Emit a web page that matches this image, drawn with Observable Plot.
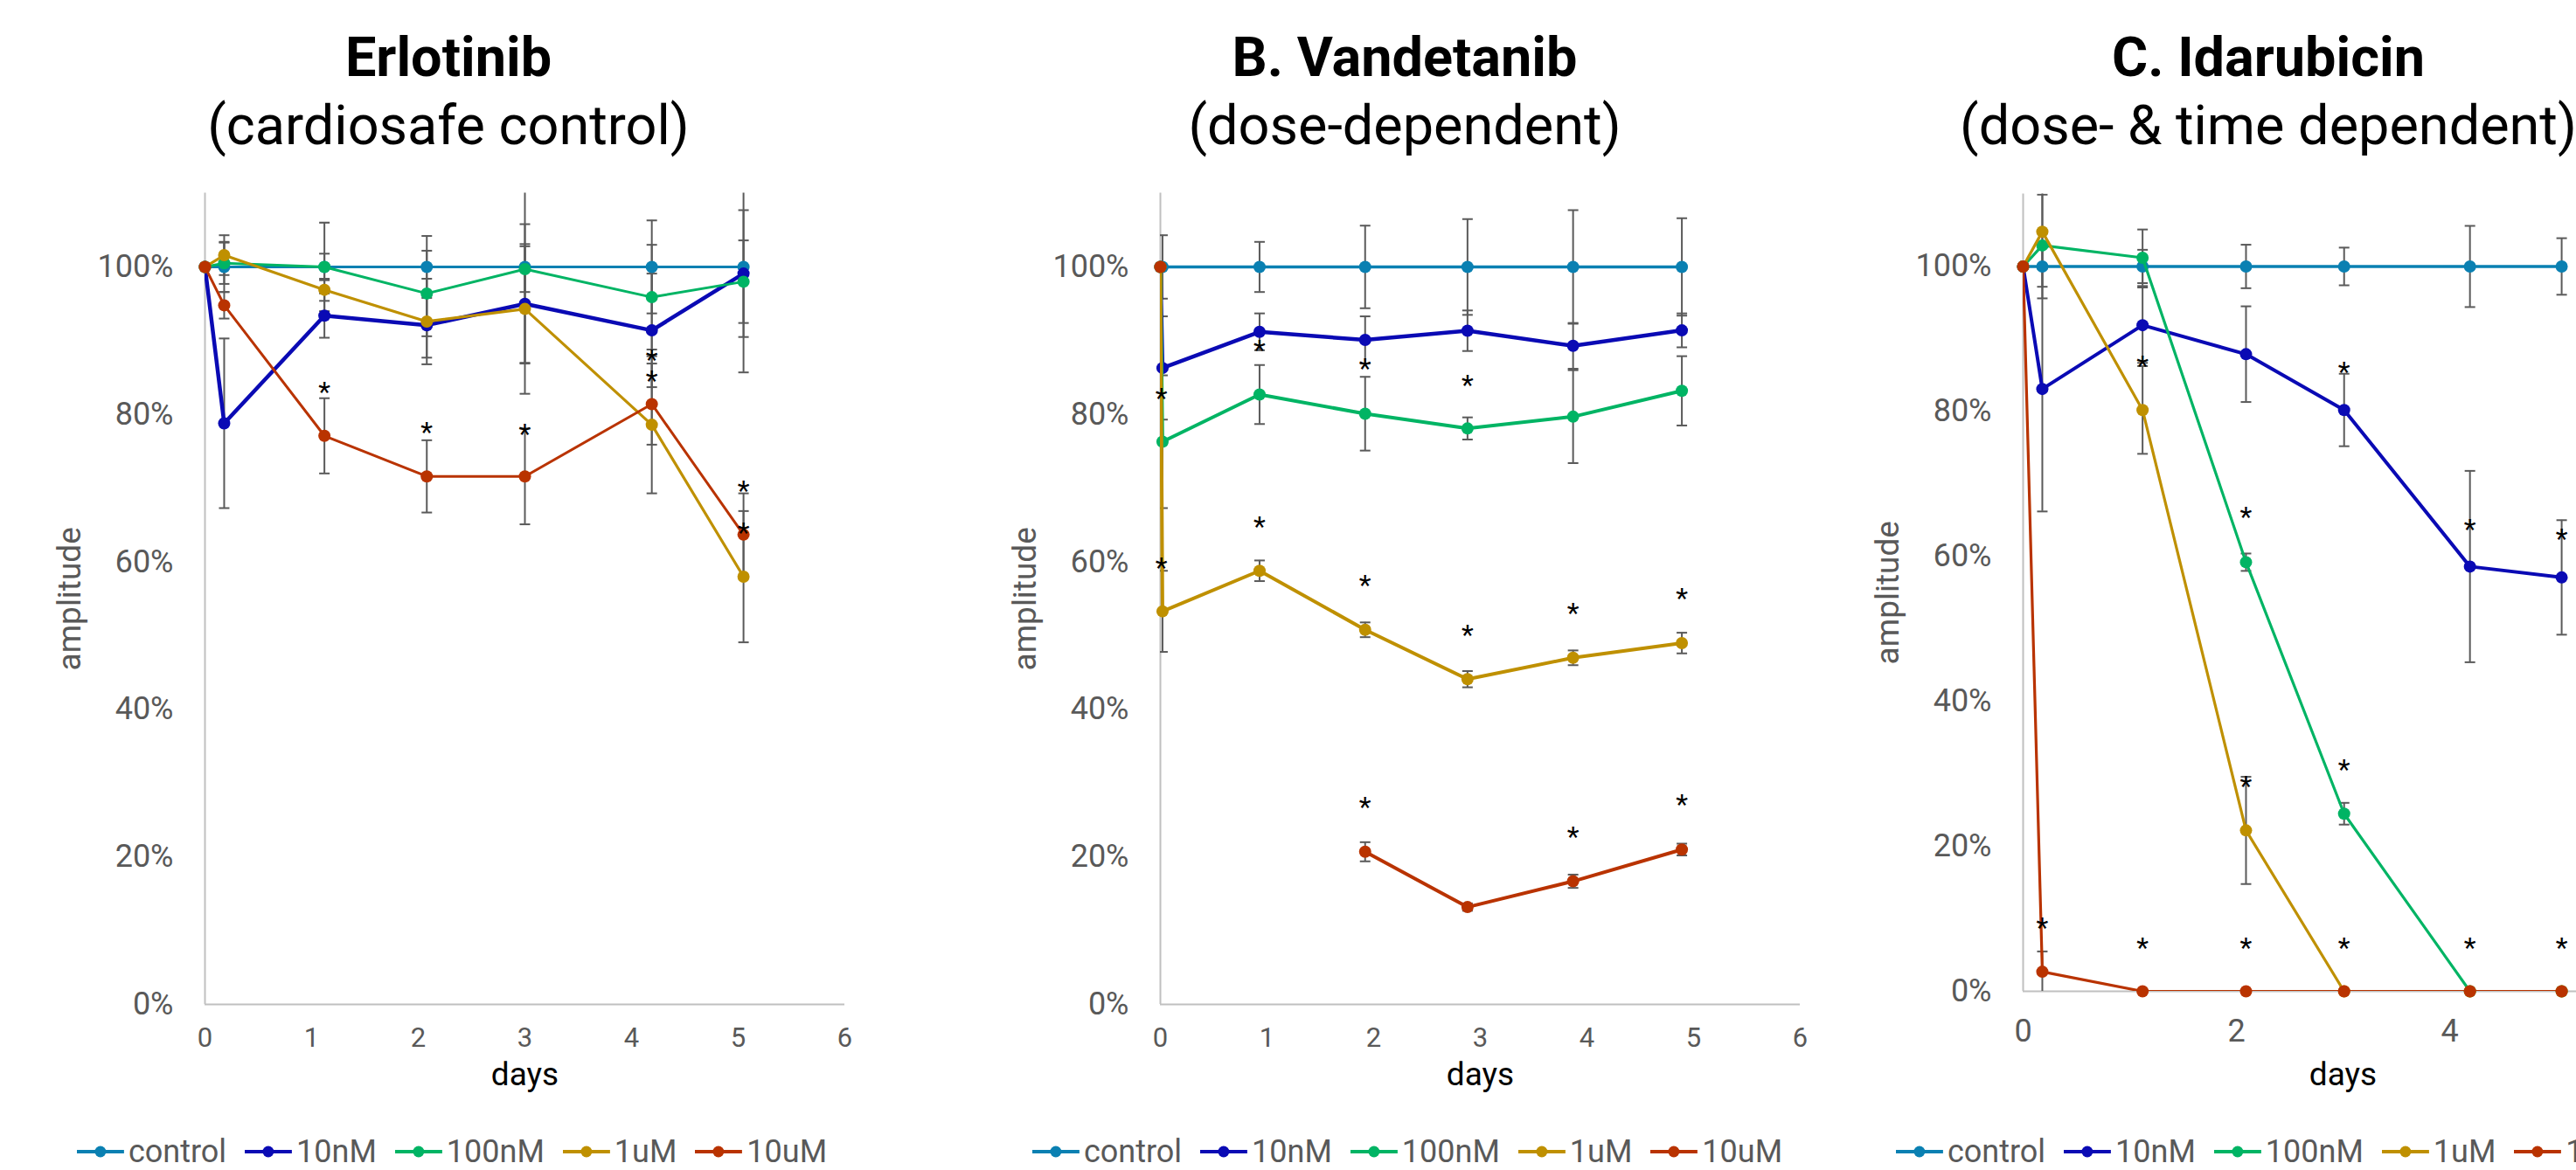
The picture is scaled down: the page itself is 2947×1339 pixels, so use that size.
<!DOCTYPE html>
<html>
<head>
<meta charset="utf-8">
<script src="https://cdn.jsdelivr.net/npm/d3@7"></script>
<script src="https://cdn.jsdelivr.net/npm/@observablehq/plot@0.6"></script>
<style>
  html, body { margin: 0; padding: 0; background: #fff; }
  #root { position: relative; width: 2947px; height: 1339px; overflow: hidden; font-family: Roboto, sans-serif; background: #fff; }
  .t1, .t2 { position: absolute; white-space: nowrap; transform: translateX(-50%); color: #000; font-size: 63px; line-height: 63px; }
  .t1 { font-weight: 700; }
  .t2 { font-weight: 400; }
  .panel { position: absolute; top: 200px; width: 912px; height: 1100px; }
  .panel svg { max-width: none !important; width: 912px !important; height: 1100px !important; }
  .legend { position: absolute; top: 1298px; transform: translateX(-50%); display: flex; align-items: center; white-space: nowrap; font-size: 36px; line-height: 40px; color: #595959; }
  .legend .item { display: flex; align-items: center; margin-right: 21px; }
  .legend .item:last-child { margin-right: 0; }
  .legend svg { margin-right: 5px; }
</style>
</head>
<body>
<div id="root"></div>
<script>
// ---------- shared ----------
const seriesNames = ["control", "10nM", "100nM", "1uM", "10uM"];
const seriesColors = ["#0A80B2", "#0A0AB4", "#00B464", "#BF9000", "#B93300"];

// ---------- Erlotinib (cardiosafe control) ----------
const erlDays = [0, 0.18, 1.12, 2.08, 3.0, 4.19, 5.05];
const erlControl = [100, 100, 100, 100, 100, 100, 100];
const erl10nM = [100, 78.8, 93.4, 92.1, 95.0, 91.4, 99.1];
const erl100nM = [100, 100.5, 100, 96.4, 99.7, 95.9, 98.0];
const erl1uM = [100, 101.6, 96.9, 92.6, 94.3, 78.6, 58.0];
const erl10uM = [100, 94.8, 77.1, 71.6, 71.6, 81.4, 63.7];
const erlControlErr = [0, 3.4, 6.0, 4.2, 13.0, 6.3, 14.3];
const erl10nMErr = [0, 11.5, 3.0, 4.4, 8.1, 7.7, 8.6];
const erl100nMErr = [0, 2.8, 1.8, 5.8, 3.1, 7.1, 5.6];
const erl1uMErr = [0, 2.7, 1.5, 5.8, 11.5, 9.3, 8.9];
const erl10uMErr = [0, 1.8, 5.1, 4.9, 6.5, 5.5, 5.6];
const erlStarDays = [1.12, 2.08, 3.0, 4.19, 4.19, 5.05, 5.05];
const erlStarLevels = [83.8, 78.4, 78.2, 88.2, 85.4, 70.5, 64.8];

// ---------- B. Vandetanib (dose-dependent) ----------
const vanDays = [0, 0.02, 0.93, 1.92, 2.88, 3.87, 4.89];
const vanControl = [100, 100, 100, 100, 100, 100, 100];
const van10nM = [100, 86.3, 91.2, 90.1, 91.35, 89.3, 91.4];
const van100nM = [100, 76.3, 82.7, 80.1, 78.1, 79.7, 83.2];
const van1uM = [100, 53.3, 58.8, 50.8, 44.1, 47.0, 49.0];
const van10uM = [100, null, null, 20.7, 13.2, 16.7, 21.0];
const vanControlErr = [0, 4.3, 3.4, 5.6, 6.5, 7.7, 6.6];
const van10nMErr = [0, 7.0, 2.5, 3.2, 2.75, 3.1, 2.3];
const van100nMErr = [0, 9.0, 4.0, 5.0, 1.5, 6.3, 4.7];
const van1uMErr = [0, 5.5, 1.4, 1.0, 1.1, 1.0, 1.4];
const van10uMErr = [0, 0, 0, 1.3, 0.5, 0.9, 0.8];
const vanStarDays = [0.01, 0.01, 0.93, 0.93, 1.92, 1.92, 1.92, 2.88, 2.88, 3.87, 3.87, 4.89, 4.89];
const vanStarLevels = [83.0, 60.1, 89.5, 65.6, 87.0, 57.7, 27.6, 84.8, 50.9, 53.9, 23.6, 55.9, 27.9];

// ---------- C. Idarubicin (dose- & time dependent) ----------
const idaDays = [0, 0.18, 1.12, 2.09, 3.01, 4.19, 5.05];
const idaControl = [100, 100, 100, 100, 100, 100, 100];
const ida10nM = [100, 83.1, 91.9, 87.9, 80.2, 58.6, 57.1];
const ida100nM = [100, 102.9, 101.2, 59.2, 24.5, 0, 0];
const ida1uM = [100, 104.8, 80.2, 22.2, 0, 0, 0];
const ida10uM = [100, 2.7, 0, 0, 0, 0, 0];
const idaControlErr = [0, 2.8, 2.3, 3.0, 2.6, 5.6, 3.9];
const ida10nMErr = [0, 16.9, 5.2, 6.6, 5.0, 13.2, 7.9];
const ida100nMErr = [0, 7.3, 3.9, 1.2, 1.5, 0, 0];
const ida1uMErr = [0, 5.1, 6.05, 7.4, 0, 0, 0];
const ida10uMErr = [0, 2.8, 0, 0, 0, 0, 0];
const idaStarDays = [0.18, 1.12, 1.12, 2.09, 2.09, 2.09, 3.01, 3.01, 3.01, 4.19, 4.19, 5.05, 5.05];
const idaStarLevels = [9.6, 87.1, 6.9, 66.3, 29.2, 6.9, 86.3, 31.4, 6.9, 64.6, 6.9, 63.2, 6.9];

const yTicks = [0, 20, 40, 60, 80, 100];

const capSymbol = { draw(ctx) { ctx.moveTo(-6, 0); ctx.lineTo(6, 0); } };

function makePanel(cfg) {
  const rows = [];
  cfg.values.forEach((vals, si) => vals.forEach((v, i) => rows.push({
    si, series: seriesNames[si], x: cfg.days[i], y: v, err: cfg.errs[si][i]
  })));
  const errRows = rows.filter(d => d.y != null && d.err > 0);
  const stars = cfg.starDays.map((x, i) => ({ x, y: cfg.starLevels[i] }));
  const eb = { stroke: "#5A5A5A", strokeWidth: 2, clip: true };
  const marks = [
    Plot.ruleY([0], { stroke: "#C0C0C0", strokeWidth: 2 }),
    Plot.ruleX([0], { stroke: "#C0C0C0", strokeWidth: 2 }),
    Plot.ruleX(errRows, { x: "x", y1: d => d.y - d.err, y2: d => d.y + d.err, ...eb }),
    Plot.dot(errRows, { x: "x", y: d => d.y + d.err, symbol: capSymbol, fill: "none", ...eb }),
    Plot.dot(errRows, { x: "x", y: d => d.y - d.err, symbol: capSymbol, fill: "none", ...eb })
  ];
  seriesNames.forEach((name, si) => {
    const data = rows.filter(d => d.si === si);
    marks.push(Plot.line(data, { x: "x", y: d => d.y == null ? NaN : d.y, stroke: seriesColors[si], strokeWidth: cfg.widths[si], clip: true }));
    marks.push(Plot.dot(data.filter(d => d.y != null), { x: "x", y: "y", fill: seriesColors[si], r: 7 }));
  });
  marks.push(Plot.text(stars, { x: "x", y: "y", text: () => "*", fontSize: 32, fill: "#000", dy: 7 }));
  marks.push(Plot.axisY({ ticks: yTicks, tickFormat: d => d + "%", tickSize: 0, tickPadding: 36, fontSize: 36, color: "#595959", label: null }));
  marks.push(Plot.axisX({ ticks: cfg.xTicks, tickFormat: d => String(d), tickSize: 0, tickPadding: cfg.xPad, fontSize: cfg.xFont, color: "#595959", label: null }));
  marks.push(Plot.text(["amplitude"], { frameAnchor: "left", dx: -154, rotate: -90, text: d => d, textAnchor: "middle", lineAnchor: "middle", fontSize: 37, fill: "#595959" }));
  marks.push(Plot.text(["days"], { frameAnchor: "bottom", dy: cfg.daysDy, text: d => d, textAnchor: "middle", lineAnchor: "middle", fontSize: 37, fill: "#000" }));

  const chart = Plot.plot({
    width: 912, height: 1100,
    marginLeft: 160, marginRight: 20, marginTop: cfg.marginTop, marginBottom: cfg.marginBottom,
    x: { domain: [0, 6] },
    y: { domain: [0, 110] },
    style: { fontFamily: "Roboto, sans-serif", background: "transparent", overflow: "visible" },
    marks
  });
  const root = document.getElementById("root");
  const wrap = document.createElement("div");
  wrap.className = "panel";
  wrap.style.left = (cfg.axisX - 160) + "px";
  wrap.appendChild(chart);
  root.appendChild(wrap);

  const t1 = document.createElement("div");
  t1.className = "t1"; t1.style.left = cfg.titleX + "px"; t1.style.top = "34px"; t1.textContent = cfg.title;
  const t2 = document.createElement("div");
  t2.className = "t2"; t2.style.left = cfg.titleX + "px"; t2.style.top = "112px"; t2.textContent = cfg.subtitle;
  root.appendChild(t1); root.appendChild(t2);

  const lg = document.createElement("div");
  lg.className = "legend"; lg.style.left = cfg.legendX + "px";
  seriesNames.forEach((n, i) => {
    const item = document.createElement("div");
    item.className = "item";
    item.innerHTML = `<svg width="54" height="20"><line x1="0" x2="54" y1="10" y2="10" stroke="${seriesColors[i]}" stroke-width="4"/><circle cx="27" cy="10" r="6.5" fill="${seriesColors[i]}"/></svg><span>${n}</span>`;
    lg.appendChild(item);
  });
  root.appendChild(lg);
}

makePanel({
  title: "Erlotinib", subtitle: "(cardiosafe control)",
  days: erlDays,
  values: [erlControl, erl10nM, erl100nM, erl1uM, erl10uM],
  errs: [erlControlErr, erl10nMErr, erl100nMErr, erl1uMErr, erl10uMErr],
  starDays: erlStarDays, starLevels: erlStarLevels,
  widths: [3, 4.5, 3, 3.2, 3],
  axisX: 234, titleX: 513, legendX: 517,
  marginTop: 20.6, marginBottom: 151,
  xTicks: [0, 1, 2, 3, 4, 5, 6], xPad: 26, xFont: 31, daysDy: 81
});
makePanel({
  title: "B. Vandetanib", subtitle: "(dose-dependent)",
  days: vanDays,
  values: [vanControl, van10nM, van100nM, van1uM, van10uM],
  errs: [vanControlErr, van10nMErr, van100nMErr, van1uMErr, van10uMErr],
  starDays: vanStarDays, starLevels: vanStarLevels,
  widths: [3.5, 4.5, 4, 4, 4],
  axisX: 1327, titleX: 1607, legendX: 1610,
  marginTop: 20.6, marginBottom: 151,
  xTicks: [0, 1, 2, 3, 4, 5, 6], xPad: 26, xFont: 31, daysDy: 81
});
makePanel({
  title: "C. Idarubicin", subtitle: "(dose- & time dependent)",
  days: idaDays,
  values: [idaControl, ida10nM, ida100nM, ida1uM, ida10uM],
  errs: [idaControlErr, ida10nMErr, ida100nMErr, ida1uMErr, ida10uMErr],
  starDays: idaStarDays, starLevels: idaStarLevels,
  widths: [3.5, 4, 3.2, 3.2, 3.2],
  axisX: 2314, titleX: 2595, legendX: 2598,
  marginTop: 21.5, marginBottom: 166,
  xTicks: [0, 2, 4, 6], xPad: 32, xFont: 36, daysDy: 96
});
</script>
</body>
</html>
